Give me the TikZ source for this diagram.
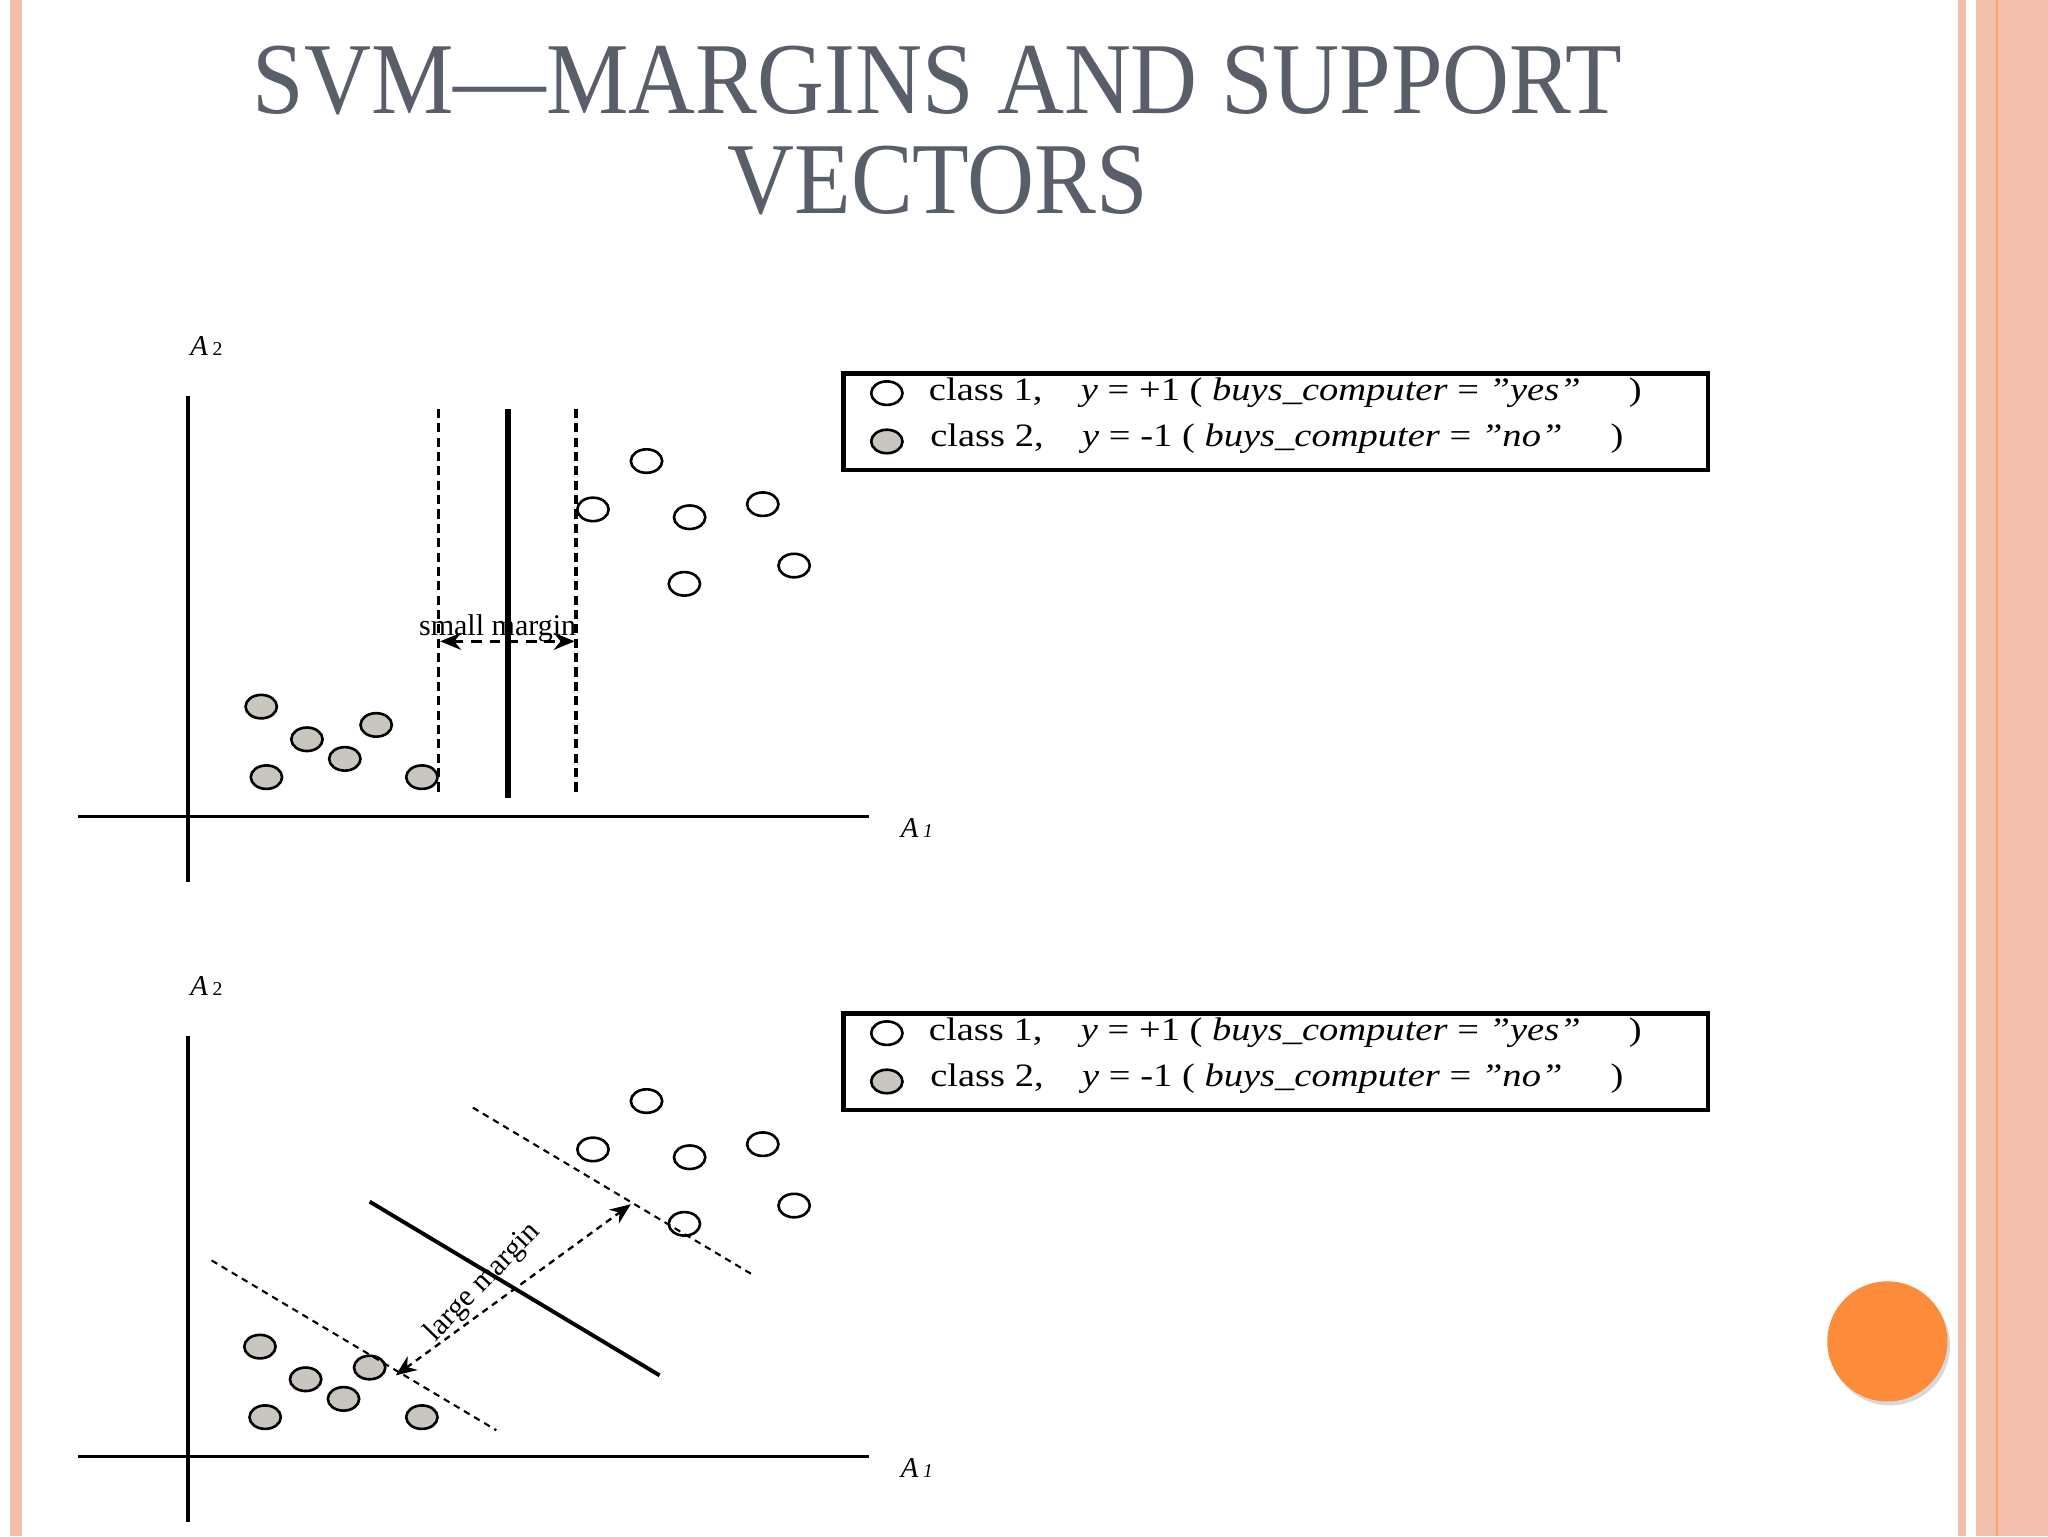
\documentclass[tikz,border=0pt]{standalone}
\usepackage{fontspec}
\setmainfont{Liberation Serif}
\usetikzlibrary{arrows.meta,shadows,shapes.geometric}
\definecolor{titlegrey}{RGB}{88,94,106}
\definecolor{pinkb}{RGB}{244,190,172}
\definecolor{orangeb}{RGB}{253,140,58}
\definecolor{dotgrey}{RGB}{200,198,190}
\tikzset{
  wpt/.style={draw=black,line width=2pt,fill=white,ellipse,minimum width=24pt,minimum height=18pt,inner sep=0pt},
  gpt/.style={wpt,fill=dotgrey},
  axis/.style={line width=2.5pt},
  marg/.style={line width=2.5pt,dash pattern=on 7pt off 4pt},
  hyper/.style={line width=4.5pt},
  tipsboth/.style={{Stealth[length=16pt,width=13pt]}-{Stealth[length=16pt,width=13pt]}},
  legbox/.style={draw,line width=3.5pt,minimum width=662pt,minimum height=74pt,anchor=north west,inner sep=0pt},
  legtxt/.style={anchor=west,font=\fontsize{25}{28}\selectfont,inner sep=0pt,xscale=1.18},
  axlab/.style={font=\fontsize{22}{24}\selectfont}
}
\begin{document}
\begin{tikzpicture}[x=1pt,y=-1pt]
\useasboundingbox (0,0) rectangle (1568,1176);
\fill[white] (0,0) rectangle (1568,1176);
% borders
\fill[pinkb] (8,0) rectangle (17,1176);
\fill[pinkb] (1499,0) rectangle (1505,1176);
\fill[pinkb] (1513,0) rectangle (1568,1176);
\draw[orangeb!80,line width=1pt] (1529,0) -- (1529,1176);
% title
\node[text=titlegrey,font=\fontsize{78}{80}\selectfont,align=center,xscale=0.91] (title) at (718,100) {SVM---MARGINS AND SUPPORT\\[-4pt]VECTORS};
% orange button
\node[circle,fill=orangeb,minimum size=92pt,drop shadow={opacity=0.3,shadow xshift=2pt,shadow yshift=-3pt}] (btn) at (1445,1027) {};

\foreach \dy/\nm in {0/a,490/b}{
  \begin{scope}[yshift=-\dy pt]
  \coordinate (\nm yt) at (144,303);
  \coordinate (\nm yb) at (144,675);
  \coordinate (\nm xl) at (60,625);
  \coordinate (\nm xr) at (665,625);
  \draw[axis] (\nm yt) -- (\nm yb);
  \draw[axis] (\nm xl) -- (\nm xr);
  \node[axlab] (\nm A2) at (158,265) {\textit{A}\,{\fontsize{15}{16}\selectfont 2}};
  \node[axlab] (\nm A1) at (702,634) {\textit{A}\,{\fontsize{15}{16}\selectfont\itshape 1}};
  \node[legbox] (\nm leg) at (644,284) {};
  \node[wpt] (\nm lw) at (679,301) {};
  \node[gpt] (\nm lg) at (679,338) {};
  \node[legtxt] (\nm t1) at (711,301) {class 1,\quad \textit{y} = +1 ( \textit{buys\_computer} = \textit{\symbol{34}yes\symbol{34}}\quad\ )};
  \node[legtxt] (\nm t2) at (712,336) {class 2,\quad \textit{y} = -1 ( \textit{buys\_computer} = \textit{\symbol{34}no\symbol{34}}\quad\ )};
  \end{scope}
}
% top plot points
\foreach \x/\y [count=\i] in {495/353,454/390,528/396,584/386,524/447,608/433}
  \node[wpt] (aw\i) at (\x,\y) {};
\foreach \x/\y [count=\i] in {200/541,235/566,288/555,264/581,204/595,323/595}
  \node[gpt] (ag\i) at (\x,\y) {};
\coordinate (m1t) at (336,313); \coordinate (m1b) at (336,607);
\coordinate (ht) at (389,313); \coordinate (hb) at (389,611);
\coordinate (m2t) at (441,313); \coordinate (m2b) at (441,607);
\draw[marg] (m1t) -- (m1b);
\draw[hyper] (ht) -- (hb);
\draw[marg] (m2t) -- (m2b);
\coordinate (sa) at (337,491); \coordinate (sb) at (440,491);
\draw[tipsboth,line width=2.5pt,dash pattern=on 8pt off 6pt] (sa) -- (sb);
\node[font=\fontsize{23}{24}\selectfont,inner sep=0pt] (small) at (381,481) {small margin};

% bottom plot points
\foreach \x/\y [count=\i] in {495/843,454/880,528/886,584/876,608/923,524/937}
  \node[wpt] (bw\i) at (\x,\y) {};
\foreach \x/\y [count=\i] in {199/1031,234/1056,283/1047,263/1071,203/1085,323/1085}
  \node[gpt] (bg\i) at (\x,\y) {};
\coordinate (h2a) at (283,920); \coordinate (h2b) at (505,1053);
\coordinate (u2a) at (362,848); \coordinate (u2b) at (578,977);
\coordinate (l2a) at (162,965); \coordinate (l2b) at (380,1095);
\draw[line width=3pt] (h2a) -- (h2b);
\draw[line width=1.6pt,dash pattern=on 5pt off 4pt] (u2a) -- (u2b);
\draw[line width=1.6pt,dash pattern=on 5pt off 4pt] (l2a) -- (l2b);
\coordinate (la) at (303,1053); \coordinate (lb) at (483,922);
\draw[tipsboth,line width=1.8pt,dash pattern=on 5pt off 4pt] (la) -- (lb);
\node[font=\fontsize{23}{24}\selectfont,rotate=46,inner sep=0pt] (large) at (370,982) {large margin};
\end{tikzpicture}
\end{document}
